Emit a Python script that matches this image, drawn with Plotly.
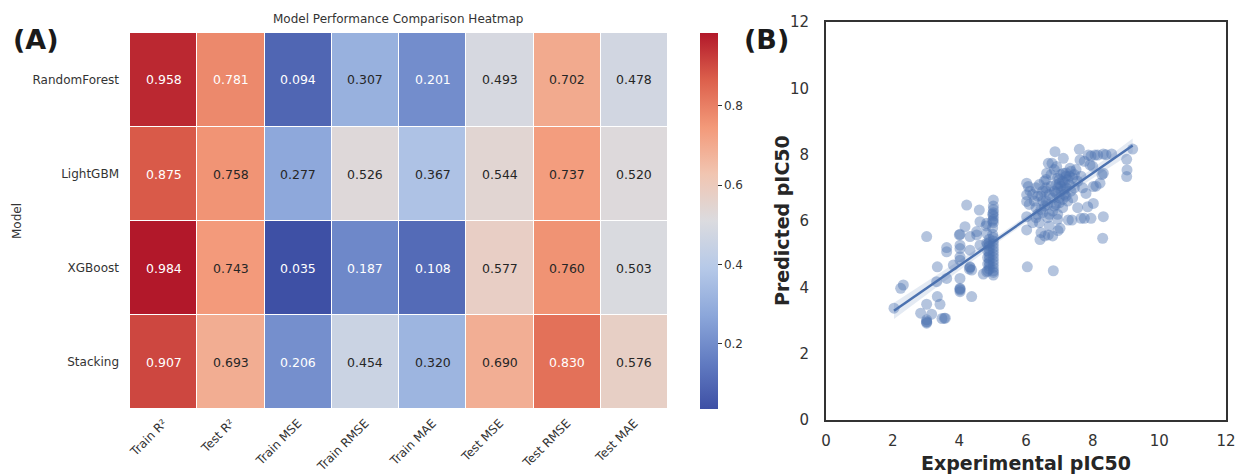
import numpy as np
import plotly.graph_objects as go

# ---------------- Data ----------------
models = ["RandomForest", "LightGBM", "XGBoost", "Stacking"]
metrics = ["Train R²", "Test R²", "Train MSE", "Train RMSE", "Train MAE", "Test MSE", "Test RMSE", "Test MAE"]
rf_vals = [0.958, 0.781, 0.094, 0.307, 0.201, 0.493, 0.702, 0.478]
lgbm_vals = [0.875, 0.758, 0.277, 0.526, 0.367, 0.544, 0.737, 0.520]
xgb_vals = [0.984, 0.743, 0.035, 0.187, 0.108, 0.577, 0.760, 0.503]
stack_vals = [0.907, 0.693, 0.206, 0.454, 0.320, 0.690, 0.830, 0.576]
cbar_ticks = [0.2, 0.4, 0.6, 0.8]

exp_pic50 = [
    2.04, 2.24, 2.32, 2.84, 3.02, 3.02, 3.02, 3.02, 3.17, 3.34, 3.42, 3.48, 3.58, 3.32, 3.34, 3.62, 3.62, 3.62, 3.02, 3.82,
    4.02, 4.02, 4.02, 4.02, 4.02, 4.02, 4.02, 4.02, 4.02, 4.00, 4.17, 4.22, 4.32, 4.32, 4.32, 4.37, 4.37, 4.30, 4.52, 4.52,
    4.60, 4.62, 4.62, 4.72, 4.82, 4.82, 4.82, 4.82, 4.80,
    5.02, 5.02, 5.02, 5.02, 5.02, 5.02, 5.02, 5.02, 5.02, 5.02, 5.02, 5.02, 5.02, 5.02, 5.02, 5.02, 5.02, 5.02, 5.02, 5.02,
    4.90, 4.90, 4.90, 4.90, 4.90, 4.90, 4.90, 4.90, 4.90, 4.90,
    4.85, 4.85, 4.85, 4.85, 4.85, 5.00, 5.00, 5.00, 5.00,
    6.02, 6.07, 6.02, 6.02, 6.02, 6.02, 6.04, 6.12, 6.10,
    6.20, 6.25, 6.30, 6.30, 6.35, 6.40, 6.42, 6.45, 6.45, 6.50, 6.50, 6.55, 6.56, 6.60, 6.60, 6.62, 6.67, 6.67, 6.70, 6.70,
    6.70, 6.75, 6.78, 6.80, 6.80, 6.82, 6.85, 6.87, 6.90, 6.90, 6.92, 6.95, 6.96, 7.00, 7.00, 7.02, 7.05, 7.10, 7.10, 7.12,
    7.12, 7.15, 7.20, 7.20, 7.25, 7.27, 7.30, 7.32, 7.35, 7.40, 7.40, 7.38, 7.45, 7.50, 7.55, 7.55, 7.60, 7.62, 7.65, 7.65,
    7.70, 7.75, 7.75, 7.80, 7.85, 7.87, 7.92, 7.95, 7.95, 8.00, 8.02, 8.02, 8.07, 8.10, 8.15, 8.22, 8.28, 8.32, 8.32, 8.32,
    8.30, 8.40, 8.57, 9.02, 9.03, 9.02, 9.20,
    6.35, 6.40, 6.55, 6.60, 6.65, 6.75, 6.80, 6.85, 6.90, 6.95, 7.00, 7.05, 7.10, 7.15, 7.20, 6.50, 6.65, 6.30, 6.20, 6.85,
    7.25, 6.45, 6.60, 6.95,
    3.02, 3.55, 4.02, 4.32, 7.00, 7.20, 7.30, 7.15, 7.35, 7.45, 7.05, 6.95,
]
pred_pic50 = [
    3.37, 3.97, 4.07, 3.22, 3.49, 3.02, 2.92, 2.97, 3.19, 3.72, 3.49, 3.06, 3.07, 4.17, 4.62, 4.27, 5.20, 5.07, 5.53, 4.67,
    3.97, 3.87, 3.92, 4.27, 4.82, 4.92, 5.17, 5.27, 5.60, 5.58, 5.83, 6.48, 5.53, 5.12, 4.62, 4.52, 3.72, 4.55, 5.58, 5.68,
    6.33, 5.98, 5.27, 4.40, 4.47, 5.63, 5.93, 5.33, 5.85,
    6.63, 6.45, 6.35, 6.25, 6.15, 6.05, 5.95, 5.50, 5.40, 5.30, 5.20, 5.10, 5.00, 4.90, 4.80, 4.70, 4.60, 4.50, 4.37, 4.45,
    5.45, 5.35, 5.25, 5.15, 5.05, 4.95, 4.85, 4.75, 4.65, 4.55,
    5.30, 5.10, 4.90, 4.70, 4.50, 6.20, 6.00, 5.60, 5.80,
    7.14, 7.04, 6.79, 6.59, 6.13, 5.73, 4.62, 6.90, 6.50,
    6.80, 6.60, 7.00, 6.40, 6.20, 5.95, 5.44, 6.35, 5.65, 6.90, 6.60, 7.20, 5.55, 7.00, 6.60, 7.44, 7.74, 5.58, 6.80, 6.20,
    5.85, 7.40, 7.74, 6.30, 5.55, 4.50, 6.90, 8.09, 7.10, 6.50, 7.64, 6.05, 5.71, 7.13, 6.70, 5.78, 6.90, 7.20, 6.40, 7.89,
    7.44, 6.80, 7.35, 7.00, 6.60, 6.03, 7.10, 7.59, 6.90, 7.30, 6.70, 6.03, 7.00, 7.55, 6.40, 7.20, 8.16, 7.84, 7.35, 6.08,
    7.00, 7.80, 6.08, 6.83, 6.43, 7.99, 7.69, 7.96, 6.08, 7.65, 7.04, 6.53, 7.99, 7.05, 7.99, 7.14, 7.40, 8.02, 7.44, 6.13,
    5.48, 8.00, 8.02, 7.86, 7.54, 7.34, 8.17,
    6.75, 7.10, 6.45, 6.90, 6.50, 7.05, 6.70, 6.45, 6.85, 7.30, 6.55, 7.05, 6.65, 7.15, 6.75, 6.25, 6.10, 6.10, 5.95, 7.55,
    7.25, 6.75, 7.25, 6.20,
    2.95, 3.07, 3.95, 4.60, 7.25, 7.45, 7.35, 6.95, 7.50, 7.40, 7.40, 7.00,
]

# ---------------- Styles ----------------
FONT = "DejaVu Sans"
TXT = "#333333"
BLUE = "#4c72b0"
W, H = 1239, 476
cmap = [
    [0.0, "rgb(62,80,165)"], [0.125, "rgb(98,124,194)"], [0.25, "rgb(140,167,218)"],
    [0.375, "rgb(182,201,232)"], [0.5, "rgb(219,219,223)"], [0.625, "rgb(241,197,177)"],
    [0.75, "rgb(243,153,121)"], [0.875, "rgb(220,96,76)"], [1.0, "rgb(178,24,42)"],
]

def px_x(p):
    return p / W

def px_y(p):
    return 1 - p / H

z = [rf_vals, lgbm_vals, xgb_vals, stack_vals]

fig = go.Figure()

fig.add_trace(go.Heatmap(
    z=z, x=metrics, y=models, colorscale=cmap,
    zmin=min(min(r) for r in z), zmax=max(max(r) for r in z),
    xgap=1, ygap=1, hoverinfo="skip",
    xaxis="x", yaxis="y",
    colorbar=dict(
        x=px_x(700), xanchor="left", thickness=18, thicknessmode="pixels", xpad=0, ypad=0,
        y=px_y(409), yanchor="bottom", len=(409 - 33) / H, lenmode="fraction",
        tickvals=cbar_ticks, ticktext=[f"{t:.1f}" for t in cbar_ticks],
        ticks="outside", ticklen=4, tickwidth=1, tickcolor=TXT,
        tickfont=dict(family=FONT, size=12, color=TXT), outlinewidth=0,
    ),
))

annotations = []
for i, m in enumerate(models):
    for j, met in enumerate(metrics):
        v = z[i][j]
        col = "white" if (v < 0.25 or v > 0.77) else "#262626"
        annotations.append(dict(
            x=met, y=m, xref="x", yref="y", text=f"{v:.3f}", showarrow=False,
            xanchor="center", yanchor="middle",
            font=dict(family=FONT, size=12.5, color=col),
        ))

# Scatter + regression
xs = np.array(exp_pic50)
ys = np.array(pred_pic50)
slope, intercept = np.polyfit(xs, ys, 1)
xfit = np.linspace(xs.min(), xs.max(), 100)
yfit = slope * xfit + intercept
n = len(xs)
resid = ys - (slope * xs + intercept)
s = np.sqrt(np.sum(resid ** 2) / (n - 2))
se = s * np.sqrt(1 / n + (xfit - xs.mean()) ** 2 / np.sum((xs - xs.mean()) ** 2))
lo, hi = yfit - 1.97 * se, yfit + 1.97 * se

fig.add_trace(go.Scatter(
    x=xs, y=ys, mode="markers", xaxis="x2", yaxis="y2",
    marker=dict(color=BLUE, size=11, opacity=0.42, line=dict(width=0)),
    hoverinfo="skip", showlegend=False,
))
fig.add_trace(go.Scatter(
    x=np.concatenate([xfit, xfit[::-1]]), y=np.concatenate([hi, lo[::-1]]),
    fill="toself", fillcolor="rgba(76,114,176,0.15)", line=dict(width=0),
    mode="lines", xaxis="x2", yaxis="y2", hoverinfo="skip", showlegend=False,
))
fig.add_trace(go.Scatter(
    x=xfit, y=yfit, mode="lines", xaxis="x2", yaxis="y2",
    line=dict(color=BLUE, width=2.5), hoverinfo="skip", showlegend=False,
))

def paper_text(xp, yp, text, size, color=TXT, angle=0):
    return dict(x=px_x(xp), y=px_y(yp), xref="paper", yref="paper", text=text,
                showarrow=False, xanchor="center", yanchor="middle", textangle=angle,
                font=dict(family=FONT, size=size, color=color))

annotations += [
    paper_text(399, 19, "Model Performance Comparison Heatmap", 12),
    paper_text(17, 221, "Model", 12, angle=-90),
    paper_text(36, 39, "<b>(A)</b>", 27, "#1a1a1a"),
    paper_text(766, 39, "<b>(B)</b>", 27, "#1a1a1a"),
    paper_text(1026, 463, "<b>Experimental pIC50</b>", 19, "#262626"),
    paper_text(782, 221, "<b>Predicted pIC50</b>", 19, "#262626", angle=-90),
]

fig.update_layout(
    width=W, height=H, margin=dict(l=0, r=0, t=0, b=0, autoexpand=False),
    paper_bgcolor="white", plot_bgcolor="white", showlegend=False,
    font=dict(family=FONT, color=TXT),
    xaxis=dict(domain=[px_x(130), px_x(668)], anchor="y", tickangle=-45, ticks="", automargin=False,
               showgrid=False, zeroline=False, showline=False,
               tickfont=dict(family=FONT, size=12, color=TXT), ticklabelstandoff=4),
    yaxis=dict(domain=[px_y(409), px_y(33)], anchor="x", autorange="reversed", ticks="", automargin=False,
               showgrid=False, zeroline=False, showline=False,
               tickfont=dict(family=FONT, size=12, color=TXT), ticklabelstandoff=10),
    xaxis2=dict(domain=[px_x(826), px_x(1226)], anchor="y2", range=[0, 12], tickvals=[0, 2, 4, 6, 8, 10, 12],
                ticks="", showgrid=False, zeroline=False, showline=True, mirror=True, automargin=False,
                linecolor="#333333", linewidth=1.8,
                tickfont=dict(family=FONT, size=15, color=TXT), ticklabelstandoff=6),
    yaxis2=dict(domain=[px_y(420), px_y(22)], anchor="x2", range=[0, 12], tickvals=[0, 2, 4, 6, 8, 10, 12],
                ticks="", showgrid=False, zeroline=False, showline=True, mirror=True, automargin=False,
                linecolor="#333333", linewidth=1.8,
                tickfont=dict(family=FONT, size=15, color=TXT), ticklabelstandoff=12),
    annotations=annotations,
)

fig.write_html(
    "out.html",
    config={"displayModeBar": False},
    post_script="document.body.style.margin='0';document.body.style.overflow='hidden';",
)
